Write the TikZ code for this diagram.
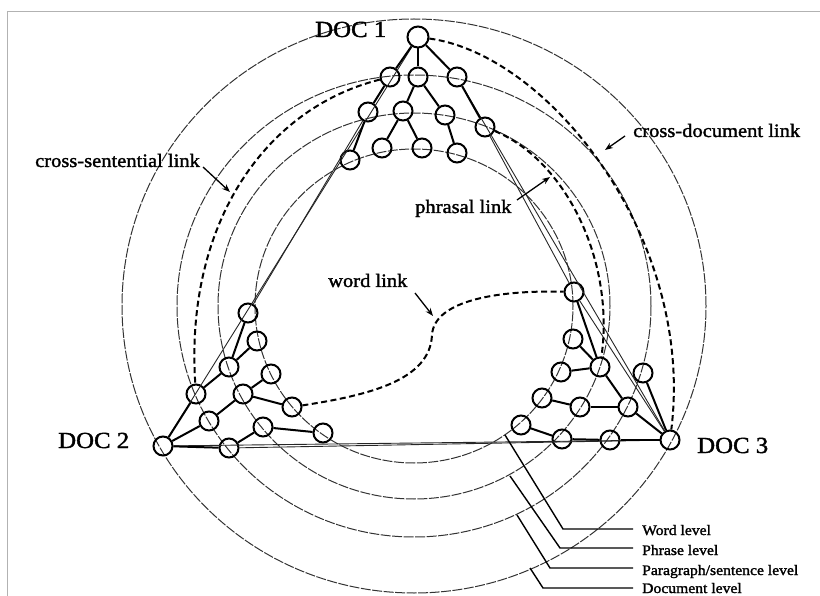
\documentclass[tikz,border=0pt]{standalone}
\usepackage{fontspec}
\setmainfont{Liberation Serif}[FakeStretch=1.08,FakeBold=1.6]
\usetikzlibrary{arrows.meta}
\begin{document}
\begin{tikzpicture}[x=1pt,y=-1pt,
  nd/.style={circle,draw,line width=2pt,minimum size=19pt,inner sep=0pt},
  rootnd/.style={nd,minimum size=21pt},
  edge/.style={line width=2pt},
  thinl/.style={line width=0.9pt,black!85},
  level/.style={line width=1pt,black!80,dash pattern=on 10pt off 1.5pt},
  link/.style={line width=2pt,dash pattern=on 6pt off 3.5pt},
  lab/.style={font=\fontsize{19}{19}\selectfont,anchor=base west,inner sep=0pt},
  doc/.style={font=\fontsize{23}{23}\selectfont,anchor=base west,inner sep=0pt},
  leg/.style={font=\fontsize{14.5}{14.5}\selectfont,anchor=base west,inner sep=0pt},
  pointer/.style={line width=1.3pt,-{Stealth[length=8pt,width=6pt]}},
  leader/.style={line width=1.4pt},
]
\useasboundingbox (0,0) rectangle (820,596);
\draw[black!30,line width=1pt] (7,596) -- (7,12) -- (820,12);

% level circles
\coordinate (ctr) at (414,306);
\draw[level] (ctr) ellipse [x radius=292pt, y radius=287pt];
\draw[level] (ctr) ellipse [x radius=237pt, y radius=231pt];
\draw[level] (ctr) ellipse [x radius=196pt, y radius=193pt];
\draw[level] (ctr) ellipse [x radius=159pt, y radius=157pt];

% DOC 1 nodes
\node[rootnd] (a0) at (418,37) {};
\node[nd] (a1) at (390,77) {};
\node[nd] (a2) at (418,77) {};
\node[nd] (a3) at (457,77) {};
\node[nd] (a4) at (368,112) {};
\node[nd] (a5) at (403,111) {};
\node[nd] (a6) at (445,115) {};
\node[nd] (a7) at (485,127) {};
\node[nd] (a8) at (350,160) {};
\node[nd] (a9) at (382,148) {};
\node[nd] (a10) at (422,148) {};
\node[nd] (a11) at (457,153) {};

% DOC 2 nodes
\node[nd] (b0) at (163,446) {};
\node[nd] (b1) at (196,394) {};
\node[nd] (b2) at (209,421) {};
\node[nd] (b3) at (229,448) {};
\node[nd] (b4) at (229,367) {};
\node[nd] (b5) at (243,394) {};
\node[nd] (b6) at (263,427) {};
\node[nd] (b7) at (248,313) {};
\node[nd] (b8) at (257,341) {};
\node[nd] (b9) at (271,374) {};
\node[nd] (b10) at (292,407) {};
\node[nd] (b11) at (323,433) {};

% DOC 3 nodes
\node[nd] (c0) at (670,440) {};
\node[nd] (c1) at (643,373) {};
\node[nd] (c2) at (628,407) {};
\node[nd] (c3) at (610,440) {};
\node[nd] (c4) at (600,367) {};
\node[nd] (c5) at (580,407) {};
\node[nd] (c6) at (562,439) {};
\node[nd] (c7) at (574,292) {};
\node[nd] (c8) at (573,339) {};
\node[nd] (c9) at (561,372) {};
\node[nd] (c10) at (542,398) {};
\node[nd] (c11) at (521,425) {};

% thin straight lines between documents
\draw[thinl] (a0) -- (b0);
\draw[thinl] (a4) -- (b7);
\draw[thinl] (a3) -- (c0);
\draw[thinl] (a7) -- (c7);
\draw[thinl] (c7) -- (c0);
\draw[thinl] (b0) -- (c0);
\draw[thinl] (b3) -- (c0);

% tree edges
\draw[edge] (a0) -- (a1); \draw[edge] (a0) -- (a2); \draw[edge] (a0) -- (a3);
\draw[edge] (a1) -- (a4); \draw[edge] (a4) -- (a8);
\draw[edge] (a2) -- (a5); \draw[edge] (a2) -- (a6);
\draw[edge] (a5) -- (a9); \draw[edge] (a5) -- (a10);
\draw[edge] (a6) -- (a11); \draw[edge] (a3) -- (a7);

\draw[edge] (b0) -- (b1); \draw[edge] (b0) -- (b2); \draw[edge] (b0) -- (b3);
\draw[edge] (b1) -- (b4); \draw[edge] (b4) -- (b7); \draw[edge] (b4) -- (b8);
\draw[edge] (b2) -- (b5); \draw[edge] (b5) -- (b9); \draw[edge] (b5) -- (b10);
\draw[edge] (b3) -- (b6); \draw[edge] (b6) -- (b11);

\draw[edge] (c0) -- (c1); \draw[edge] (c0) -- (c2); \draw[edge] (c0) -- (c3);
\draw[edge] (c2) -- (c4); \draw[edge] (c2) -- (c5); \draw[edge] (c3) -- (c6);
\draw[edge] (c4) -- (c7); \draw[edge] (c4) -- (c8); \draw[edge] (c4) -- (c9);
\draw[edge] (c5) -- (c10); \draw[edge] (c6) -- (c11);

% dashed links
\draw[link] (a0) .. controls (550,55) and (695,240) .. (c0);
\draw[link] (a7) .. controls (565,160) and (615,260) .. (c4);
\draw[link] (a1) .. controls (260,110) and (185,230) .. (b1);
\coordinate (wm) at (432,335);
\draw[link] (b10) .. controls (370,395) and (430,380) .. (wm)
  .. controls (434,300) and (500,290) .. (c7);

% labels
\node[doc] (t1) at (315,37) {DOC 1};
\node[doc] (t2) at (58,448) {DOC 2};
\node[doc] (t3) at (697,453) {DOC 3};

\node[lab] (ls) at (35,167) {cross-sentential link};
\node[lab] (ld) at (633,137) {cross-document link};
\node[lab] (lp) at (415,213) {phrasal link};
\node[lab] (lw) at (328,287) {word link};

\coordinate (ps0) at (203,167); \coordinate (ps1) at (230,192);
\coordinate (pd0) at (625,136); \coordinate (pd1) at (605,150);
\coordinate (pp0) at (517,200); \coordinate (pp1) at (550,177);
\coordinate (pw0) at (415,293); \coordinate (pw1) at (433,316);
\draw[pointer] (ps0) -- (ps1);
\draw[pointer] (pd0) -- (pd1);
\draw[pointer] (pp0) -- (pp1);
\draw[pointer] (pw0) -- (pw1);

% legend
\node[leg] (gw) at (642,535) {Word level};
\node[leg] (gp) at (642,555) {Phrase level};
\node[leg] (gs) at (642,575) {Paragraph/sentence level};
\node[leg] (gd) at (642,593) {Document level};
\coordinate (w0) at (505,435); \coordinate (w1) at (563,529); \coordinate (w2) at (633,529);
\coordinate (p0) at (510,476); \coordinate (p1) at (560,548); \coordinate (p2) at (633,548);
\coordinate (s0) at (517,515); \coordinate (s1) at (550,568); \coordinate (s2) at (633,568);
\coordinate (d0) at (530,568); \coordinate (d1) at (543,588); \coordinate (d2) at (633,588);
\draw[leader] (w0) -- (w1) -- (w2);
\draw[leader] (p0) -- (p1) -- (p2);
\draw[leader] (s0) -- (s1) -- (s2);
\draw[leader] (d0) -- (d1) -- (d2);
\end{tikzpicture}
\end{document}
